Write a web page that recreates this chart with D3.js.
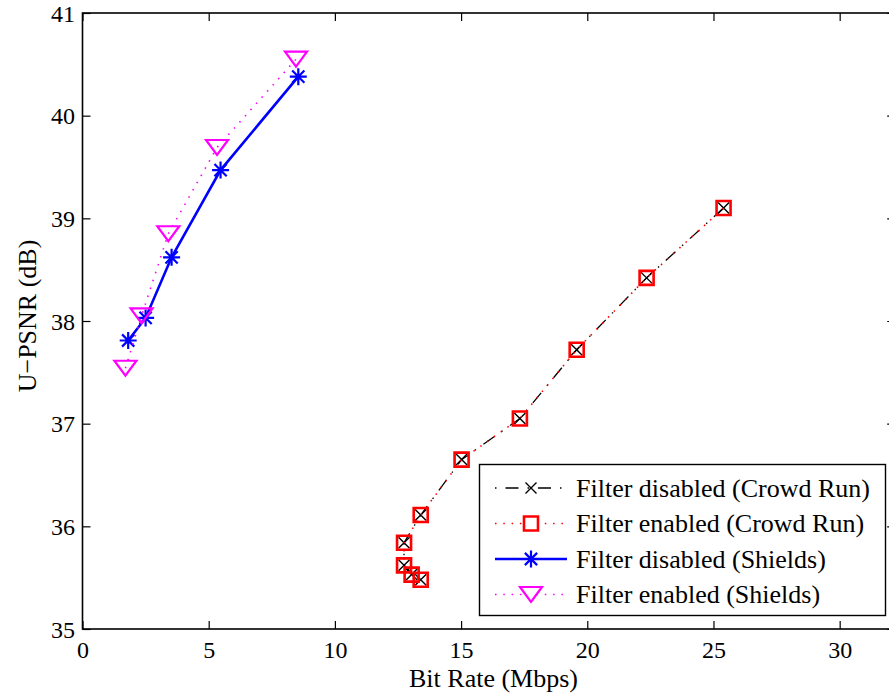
<!DOCTYPE html>
<html>
<head>
<meta charset="utf-8">
<script src="https://cdn.jsdelivr.net/npm/d3@7"></script>
<style>
  html, body { margin: 0; padding: 0; background: #fff; overflow: hidden; }
</style>
</head>
<body>
<svg id="chart" width="889" height="698" style="display:block"></svg>
<script>
// Rate-distortion points: bit rate (Mbps) vs U-PSNR (dB)
const crowdDisabledRate = [25.40, 22.35, 19.58, 17.33, 15.02, 13.40, 12.74, 12.74, 13.04, 13.40];
const crowdDisabledPsnr = [39.10, 38.42, 37.72, 37.05, 36.65, 36.11, 35.84, 35.62, 35.53, 35.48];
const crowdEnabledRate  = [25.40, 22.35, 19.58, 17.33, 15.02, 13.40, 12.74, 12.74, 13.04, 13.40];
const crowdEnabledPsnr  = [39.10, 38.42, 37.72, 37.05, 36.65, 36.11, 35.84, 35.62, 35.53, 35.48];
const shieldsDisabledRate = [1.81, 2.50, 3.53, 5.47, 8.55];
const shieldsDisabledPsnr = [37.81, 38.03, 38.62, 39.47, 40.38];
const shieldsEnabledRate  = [1.70, 2.34, 3.40, 5.33, 8.46];
const shieldsEnabledPsnr  = [37.54, 38.05, 38.85, 39.69, 40.55];

const seriesNames = [
  "Filter disabled (Crowd Run)",
  "Filter enabled (Crowd Run)",
  "Filter disabled (Shields)",
  "Filter enabled (Shields)"
];
const xTicks = [0, 5, 10, 15, 20, 25, 30];
const yTicks = [35, 36, 37, 38, 39, 40, 41];
const xDomain = [0, 32.2];
const yDomain = [35, 41];
const xLabel = "Bit Rate (Mbps)";
const yLabel = "U\u2212PSNR (dB)";

const serifFont = "'Liberation Serif', 'DejaVu Serif', 'Times New Roman', serif";

const svg = d3.select("#chart");
const plotLeft = 82.5, plotTop = 13, plotBottom = 629, plotRight = 895.2;
const x = d3.scaleLinear().domain(xDomain).range([plotLeft, plotRight]);
const y = d3.scaleLinear().domain(yDomain).range([plotBottom, plotTop]);

// Marker shapes
const markers = {
  cross: r => `M${-r},${-r}L${r},${r}M${-r},${r}L${r},${-r}`,
  square: r => `M${-r},${-r}H${r}V${r}H${-r}Z`,
  star: r => {
    const d = r * 0.72;
    return `M${-r},0H${r}M0,${-r}V${r}M${-d},${-d}L${d},${d}M${-d},${d}L${d},${-d}`;
  },
  triDown: r => `M${-r},${-r * 0.68}L${r},${-r * 0.68}L0,${r * 0.68}Z`
};

const styles = [
  { color: "#000", width: 1.3, dash: "13,9,1.5,9", legendOffset: 22, marker: "cross", size: 5.5, mw: 1.4 },
  { color: "#ff0000", width: 1.6, dash: "1.5,6.8", legendOffset: 0, marker: "square", size: 7, mw: 2.6 },
  { color: "#0000ff", width: 2.6, dash: null, legendOffset: 0, marker: "star", size: 8.5, mw: 2.2 },
  { color: "#ff00ff", width: 1.6, dash: "1.5,6.8", legendOffset: 0, marker: "triDown", size: 11, mw: 2.2 }
];

const series = [
  d3.zip(crowdDisabledRate, crowdDisabledPsnr),
  d3.zip(crowdEnabledRate, crowdEnabledPsnr),
  d3.zip(shieldsDisabledRate, shieldsDisabledPsnr),
  d3.zip(shieldsEnabledRate, shieldsEnabledPsnr)
];

// Axes with inward ticks on all four sides
const tickLen = 8;
const fontTick = 24;

const gx = svg.append("g").attr("transform", `translate(0,${plotBottom})`)
  .call(d3.axisBottom(x).tickValues(xTicks).tickSize(-tickLen).tickFormat(d3.format("d")));
const gxTop = svg.append("g").attr("transform", `translate(0,${plotTop})`)
  .call(d3.axisTop(x).tickValues(xTicks).tickSize(-tickLen).tickFormat(""));
const gy = svg.append("g").attr("transform", `translate(${plotLeft},0)`)
  .call(d3.axisLeft(y).tickValues(yTicks).tickSize(-tickLen).tickFormat(d3.format("d")));
const gyRight = svg.append("g").attr("transform", `translate(${plotRight},0)`)
  .call(d3.axisRight(y).tickValues(yTicks).tickSize(-tickLen).tickFormat(""));

[gx, gxTop, gy, gyRight].forEach(g => {
  g.attr("font-family", null);
  g.select(".domain").remove();
  g.selectAll(".tick line").attr("stroke", "#000").attr("stroke-width", 1.2);
});
gx.selectAll(".tick text")
  .attr("y", 29).attr("dy", 0)
  .attr("font-size", fontTick).attr("fill", "#000");
gy.selectAll(".tick text")
  .attr("x", -7.5).attr("dy", 8)
  .attr("font-size", fontTick).attr("fill", "#000");

// Plot frame
svg.append("rect")
  .attr("x", plotLeft).attr("y", plotTop)
  .attr("width", plotRight - plotLeft).attr("height", plotBottom - plotTop)
  .attr("fill", "none").attr("stroke", "#000").attr("stroke-width", 1.6);

// Axis titles
svg.append("text")
  .attr("x", 493.5).attr("y", 687)
  .attr("text-anchor", "middle")
  .attr("font-size", 26).attr("fill", "#000")
  .text(xLabel);

svg.append("text")
  .attr("transform", `translate(36,${(plotTop + plotBottom) / 2 - 5}) rotate(-90)`)
  .attr("text-anchor", "middle")
  .attr("font-size", 26).attr("fill", "#000")
  .text(yLabel);

// Series lines and markers
const line = d3.line().x(d => x(d[0])).y(d => y(d[1]));
const plot = svg.append("g");
series.forEach((pts, i) => {
  const s = styles[i];
  const g = plot.append("g");
  g.append("path")
    .attr("d", line(pts))
    .attr("fill", "none")
    .attr("stroke", s.color)
    .attr("stroke-width", s.width)
    .attr("stroke-dasharray", s.dash);
  g.selectAll(".mk").data(pts).join("path")
    .attr("class", "mk")
    .attr("transform", d => `translate(${x(d[0])},${y(d[1])})`)
    .attr("d", markers[s.marker](s.size))
    .attr("fill", "none")
    .attr("stroke", s.color)
    .attr("stroke-width", s.mw);
});

// Legend
const lg = svg.append("g");
lg.append("rect")
  .attr("x", 479.5).attr("y", 464.5).attr("width", 406).attr("height", 151)
  .attr("fill", "#fff").attr("stroke", "#000").attr("stroke-width", 1.4);
const rowY = [488, 523.5, 559, 594.5];
seriesNames.forEach((name, i) => {
  const s = styles[i];
  const cy = rowY[i];
  lg.append("line")
    .attr("x1", 495).attr("x2", 567).attr("y1", cy).attr("y2", cy)
    .attr("stroke", s.color).attr("stroke-width", s.width)
    .attr("stroke-dasharray", s.dash)
    .attr("stroke-dashoffset", s.legendOffset);
  lg.append("path")
    .attr("transform", `translate(531,${cy})`)
    .attr("d", markers[s.marker](s.size))
    .attr("fill", "#fff")
    .attr("stroke", s.color).attr("stroke-width", s.mw);
  lg.append("text")
    .attr("x", 576).attr("y", cy + 8.5)
    .attr("font-size", 26).attr("fill", "#000")
    .text(name);
});

// Serif typeface for every label
svg.selectAll("text").style("font-family", serifFont);
</script>
</body>
</html>
